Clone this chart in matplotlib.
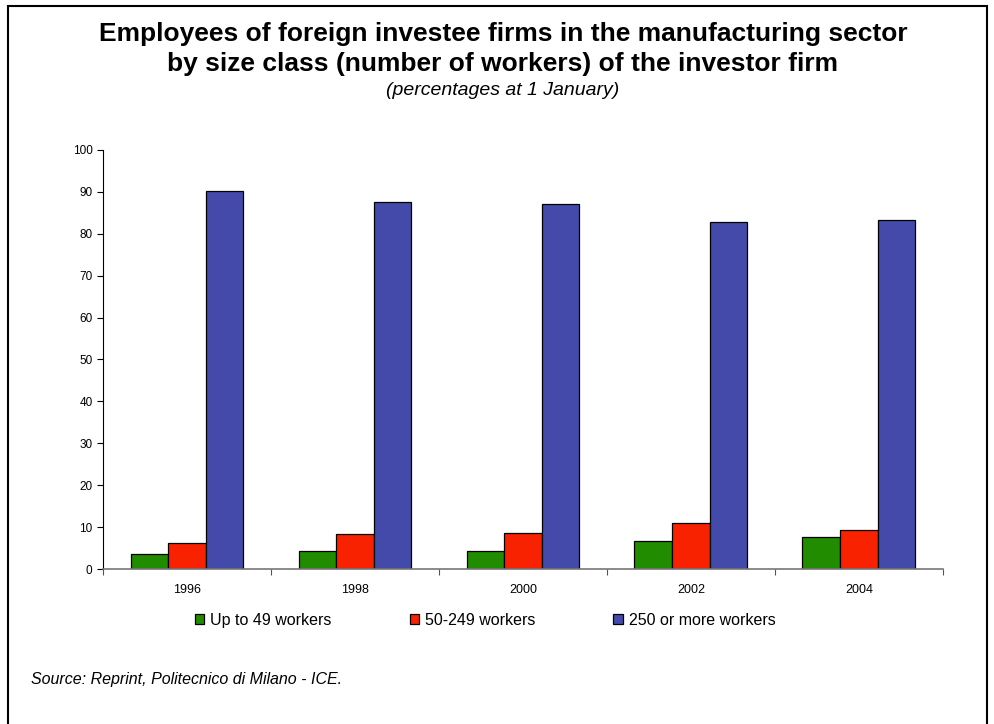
import numpy as np
import matplotlib.pyplot as plt
from matplotlib.patches import Rectangle

plt.rcParams['font.family'] = ['Liberation Sans', 'DejaVu Sans']

# 数据：各规模投资企业的就业占比（%）
years = ['1996', '1998', '2000', '2002', '2004']
small = [3.7, 4.3, 4.3, 6.6, 7.7]
medium = [6.2, 8.3, 8.7, 10.9, 9.4]
large = [90.2, 87.5, 87.0, 82.7, 83.2]
labels = ['Up to 49 workers', '50-249 workers', '250 or more workers']
colors = ['#218c00', '#f82200', '#444aaa']

fig = plt.figure(figsize=(9.94, 7.24), dpi=100)
ax = fig.add_axes([0.1036, 0.214, 0.845, 0.579])

x = np.arange(len(years))
w = 0.224
series = [small, medium, large]
bars = []
for i, (vals, c, lab) in enumerate(zip(series, colors, labels)):
    b = ax.bar(x + (i - 1) * w, vals, w, color=c, edgecolor='black', linewidth=0.9, label=lab)
    bars.append(b)

ax.set_xlim(-0.5, len(years) - 0.5)
ax.set_ylim(0, 100)
ax.set_yticks(range(0, 101, 10))
ax.tick_params(axis='y', labelsize=8.5, length=4, direction='out', width=0.8)
# x 轴刻度在类别之间，标签放在类别中间
ax.set_xticks(np.arange(len(years) + 1) - 0.5)
ax.set_xticklabels([])
ax.set_xticks(x, minor=True)
ax.set_xticklabels(years, minor=True, fontsize=9)
ax.tick_params(axis='x', which='major', length=4, width=0.8, color='#555555')
ax.tick_params(axis='x', which='minor', length=0, pad=11)
ax.spines['top'].set_visible(False)
ax.spines['right'].set_visible(False)
ax.spines['bottom'].set_color('#777777')
ax.spines['bottom'].set_linewidth(1.2)
ax.spines['left'].set_linewidth(0.8)

fig.legend(handles=bars, labels=labels, loc='center', bbox_to_anchor=(0.488, 0.143),
           ncol=3, frameon=False, fontsize=11.5, handlelength=0.6, handleheight=0.6,
           handletextpad=0.35, columnspacing=4.9)

fig.text(0.506, 1 - 41 / 724, 'Employees of foreign investee firms in the manufacturing sector',
         ha='center', va='baseline', fontsize=19, fontweight='bold')
fig.text(0.506, 1 - 71 / 724, 'by size class (number of workers) of the investor firm',
         ha='center', va='baseline', fontsize=19, fontweight='bold')
fig.text(0.506, 1 - 95 / 724, '(percentages at 1 January)', ha='center', va='baseline',
         fontsize=14, style='italic')
fig.text(0.031, 0.062, 'Source: Reprint, Politecnico di Milano - ICE.', ha='left', va='center',
         fontsize=11.5, style='italic')

# 外框
fig.patches.append(Rectangle((0.008, -0.05), 0.985, 1.042, transform=fig.transFigure,
                             fill=False, edgecolor='black', linewidth=1.5))

fig.savefig('out.png', dpi=100)
